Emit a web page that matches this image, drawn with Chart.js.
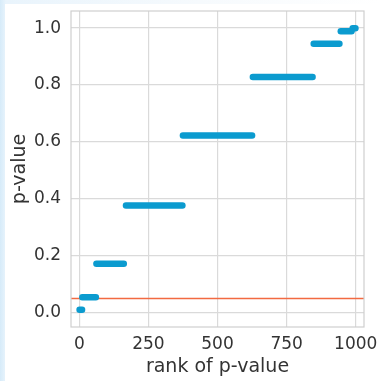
<!DOCTYPE html>
<html>
<head>
<meta charset="utf-8">
<script src="https://cdn.jsdelivr.net/npm/chart.js@4.4.1/dist/chart.umd.min.js"></script>
<style>
  html, body { margin: 0; padding: 0; }
  body {
    width: 381px; height: 381px; overflow: hidden;
    background: linear-gradient(to right, #d6ebf9 0px, #e9f4fc 6px, #f6fafd 200px, #ffffff 381px);
  }
  #wrap { position: relative; width: 381px; height: 381px; }
</style>
</head>
<body>
<div id="wrap"><canvas id="pvals" width="381" height="381"></canvas></div>
<script>
// sorted p-values: each run of equal values is one flat step (rank from..to)
const stepP = [0.0107, 0.0547, 0.1719, 0.377, 0.623, 0.8281, 0.9453, 0.9893, 0.999];
const stepFrom = [1, 11, 62, 169, 375, 628, 848, 946, 989];
const stepTo = [10, 60, 161, 373, 625, 844, 941, 985, 999];

const alpha = 0.05;
const xTicks = [0, 250, 500, 750, 1000];
const yTicks = [0.0, 0.2, 0.4, 0.6, 0.8, 1.0];

const blue = "#0b9bcf";
const red = "#f26a41";
const gridColor = "#dadada";
const textColor = "#333333";
const tickFont = { family: "DejaVu Sans", size: 17 };
const titleFont = { family: "DejaVu Sans", size: 19 };

const stepSets = stepP.map((p, i) => ({
  data: [{ x: stepFrom[i], y: p }, { x: stepTo[i], y: p }],
  borderColor: blue,
  borderWidth: 6.5,
  borderCapStyle: "round",
  pointRadius: 0,
  order: 1,
}));

const alphaLine = {
  data: [{ x: -30, y: alpha }, { x: 1030, y: alpha }],
  borderColor: red,
  borderWidth: 1.6,
  pointRadius: 0,
  order: 2,
};

// white figure panel + frame round the plot area
const framePlugin = {
  id: "frame",
  beforeDraw(chart) {
    const ctx = chart.ctx;
    ctx.save();
    ctx.fillStyle = "#ffffff";
    ctx.fillRect(5, 4, 376, 377);
    ctx.restore();
  },
  afterDraw(chart) {
    const { left, top, right, bottom } = chart.chartArea;
    const ctx = chart.ctx;
    ctx.save();
    ctx.strokeStyle = "#cfcfcf";
    ctx.lineWidth = 1.2;
    ctx.strokeRect(left, top, right - left, bottom - top);
    ctx.restore();
  },
};

new Chart(document.getElementById("pvals"), {
  type: "line",
  data: { datasets: [alphaLine, ...stepSets] },
  options: {
    responsive: false,
    animation: false,
    layout: { padding: { left: 0, top: 11, right: 17, bottom: 0 } },
    plugins: { legend: { display: false }, tooltip: { enabled: false } },
    scales: {
      x: {
        type: "linear",
        min: -30,
        max: 1030,
        afterBuildTicks: (s) => { s.ticks = xTicks.map((v) => ({ value: v })); },
        afterFit: (s) => { s.height = 54; s.paddingLeft = 0; s.paddingRight = 0; },
        grid: { color: gridColor, lineWidth: 1.2, drawTicks: false },
        border: { display: false },
        ticks: { color: textColor, font: tickFont, padding: 7, maxRotation: 0, callback: (v) => String(v) },
        title: { display: true, text: "rank of p-value", color: textColor, font: titleFont, padding: { top: 0, bottom: 3 } },
      },
      y: {
        min: -0.05,
        max: 1.06,
        afterBuildTicks: (s) => { s.ticks = yTicks.map((v) => ({ value: v })); },
        afterFit: (s) => { s.width = 71; s.paddingTop = 0; s.paddingBottom = 0; },
        grid: { color: gridColor, lineWidth: 1.2, drawTicks: false },
        border: { display: false },
        ticks: { color: textColor, font: tickFont, padding: 10, callback: (v) => Number(v).toFixed(1) },
        title: { display: true, text: "p-value", color: textColor, font: titleFont, padding: { top: 9, bottom: 0 } },
      },
    },
  },
  plugins: [framePlugin],
});
</script>
</body>
</html>
